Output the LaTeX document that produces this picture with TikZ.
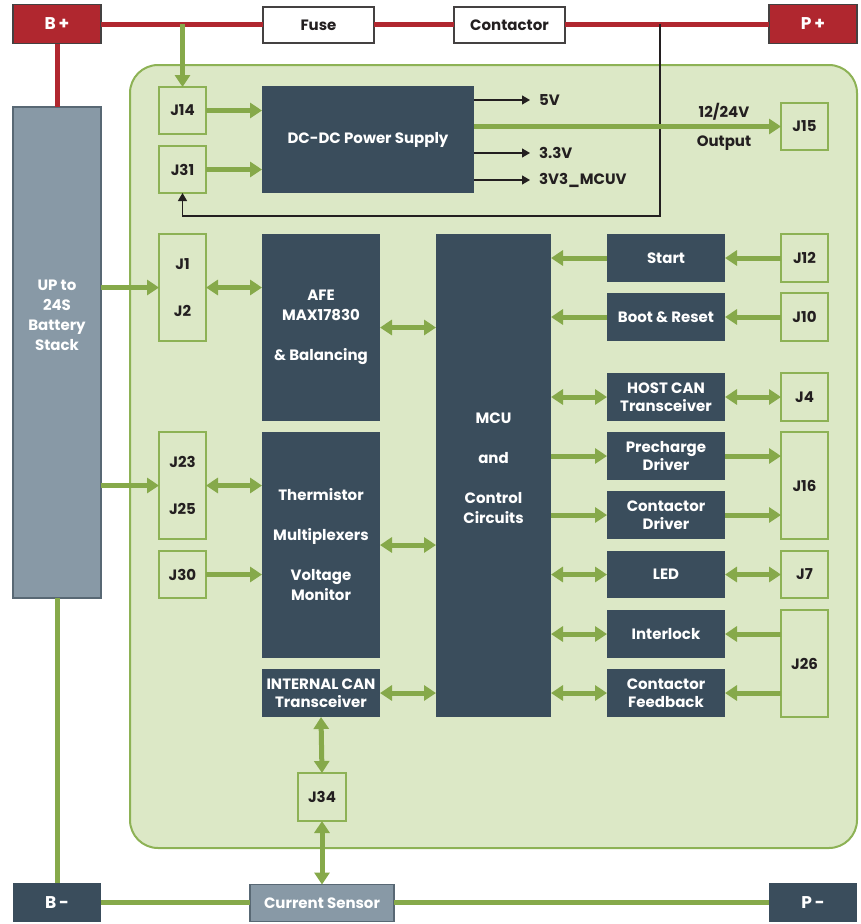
\documentclass[tikz,border=0pt]{standalone}
\usepackage{fontspec}
\setmainfont{Poppins}
\usetikzlibrary{arrows.meta}
\definecolor{board}{HTML}{DCE8C6}
\definecolor{boardline}{HTML}{8DB255}
\definecolor{grn}{HTML}{86A94A}
\definecolor{slate}{HTML}{3A4D5C}
\definecolor{steel}{HTML}{8899A6}
\definecolor{bred}{HTML}{B0272F}
\definecolor{ink}{HTML}{231F20}
\tikzset{
 base/.style={inner sep=0pt, outer sep=0pt, align=center, font=\bfseries\fontsize{15}{17.5}\selectfont},
 dark/.style={base, fill=slate, text=white},
 steelbox/.style={base, fill=steel, draw=slate!85, line width=1.2pt, text=white},
 redbox/.style={base, fill=bred, draw=ink!85, line width=1.2pt, text=white, font=\bfseries\fontsize{17}{20}\selectfont},
 railbox/.style={font=\bfseries\fontsize{17}{20}\selectfont},
 jbox/.style={base, draw=boardline, line width=2pt, text=ink},
 wbox/.style={base, fill=white, draw=ink!85, line width=1.5pt, text=ink},
 lbl/.style={base, text=ink},
 wide/.style={font=\bfseries\fontsize{15}{20}\selectfont},
 garrow/.style={draw=grn, line width=5pt, -{Triangle[length=12pt,width=15pt]}},
 gboth/.style={draw=grn, line width=5pt, {Triangle[length=12pt,width=15pt]}-{Triangle[length=12pt,width=15pt]}},
 gline/.style={draw=grn, line width=5pt},
 rline/.style={draw=bred, line width=5pt},
 thinarrow/.style={draw=ink, line width=1.2pt, -{Triangle[length=8pt,width=9pt]}},
}
\begin{document}
\begin{tikzpicture}[x=1pt,y=-1pt]
\useasboundingbox (0,0) rectangle (861,924);
% board
\draw[fill=board, draw=boardline, line width=2pt, rounded corners=28pt] (130,65) rectangle (857,848);
% top / bottom rail boxes
\node[redbox, minimum width=88pt, minimum height=39pt] (Bp) at (57,24) {B\,+};
\node[wbox, minimum width=111pt, minimum height=36pt] (Fuse) at (318.5,25) {Fuse};
\node[wbox, minimum width=111pt, minimum height=36pt] (Cont) at (509.5,25) {Contactor};
\node[redbox, minimum width=88pt, minimum height=39pt] (Pp) at (813,24) {P\,+};
\node[steelbox, minimum width=88pt, minimum height=491pt] (Batt) at (57,352.5) {};
\node[base, wide, text=white] (BattText) at (57,315) {UP to\\24S\\Battery\\Stack};
\node[dark, railbox, minimum width=88pt, minimum height=39pt] (Bm) at (57,902.5) {B\,-};
\node[steelbox, minimum width=144pt, minimum height=37pt] (CS) at (322,903) {Current Sensor};
\node[dark, railbox, minimum width=88pt, minimum height=39pt] (Pm) at (813,902.5) {P\,-};
% power section
\node[jbox, minimum width=47pt, minimum height=47pt] (J14) at (182.5,110.5) {J14};
\node[jbox, minimum width=47pt, minimum height=47pt] (J31) at (182.5,169.5) {J31};
\node[dark, minimum width=212pt, minimum height=107pt] (DC) at (368,139.5) {DC-DC Power Supply};
\node[jbox, minimum width=47pt, minimum height=47pt] (J15) at (804.5,126.5) {J15};
\node[lbl, anchor=west, inner xsep=9pt] (V5) at (530,100) {5V};
\node[lbl, anchor=west, inner xsep=9pt] (V33) at (530,153) {3.3V};
\node[lbl, anchor=west, inner xsep=9pt] (V3M) at (530,180) {3V3\_MCUV};
\node[lbl] (OutA) at (724,112) {12/24V};
\node[lbl] (OutB) at (724,143) {Output};
% left column
\node[jbox, minimum width=47pt, minimum height=107pt, font=\bfseries\fontsize{15}{47}\selectfont] (J12) at (182.5,287.5) {J1\\J2};
\node[dark, wide, minimum width=118pt, minimum height=187pt] (AFE) at (321,327.5) {AFE\\MAX17830\\~\\\& Balancing};
\node[jbox, minimum width=47pt, minimum height=107pt, font=\bfseries\fontsize{15}{47}\selectfont] (J2325) at (182.5,485.5) {J23\\J25};
\node[dark, wide, minimum width=118pt, minimum height=226pt] (Therm) at (321,545) {Thermistor\\~\\Multiplexers\\~\\Voltage\\Monitor};
\node[jbox, minimum width=47pt, minimum height=47pt] (J30) at (182.5,574.5) {J30};
\node[dark, minimum width=118pt, minimum height=48pt] (ICAN) at (321,693) {INTERNAL CAN\\Transceiver};
\node[jbox, minimum width=48pt, minimum height=48pt] (J34) at (322,797) {J34};
% MCU
\node[dark, minimum width=115pt, minimum height=483pt] (MCU) at (493.5,475.5) {};
\node[base, wide, text=white] (MCUText) at (493.5,468) {MCU\\~\\and\\~\\Control\\Circuits};
% right blocks
\node[dark, minimum width=118pt, minimum height=48pt] (Start) at (666,258) {Start};
\node[dark, minimum width=118pt, minimum height=48pt] (Boot) at (666,317) {Boot \& Reset};
\node[dark, minimum width=118pt, minimum height=48pt] (Host) at (666,397) {HOST CAN\\Transceiver};
\node[dark, minimum width=118pt, minimum height=48pt] (Pre) at (666,456) {Precharge\\Driver};
\node[dark, minimum width=118pt, minimum height=48pt] (CD) at (666,515) {Contactor\\Driver};
\node[dark, minimum width=118pt, minimum height=47pt] (LED) at (666,574.5) {LED};
\node[dark, minimum width=118pt, minimum height=48pt] (Inter) at (666,634) {Interlock};
\node[dark, minimum width=118pt, minimum height=48pt] (CF) at (666,693) {Contactor\\Feedback};
% right connectors
\node[jbox, minimum width=47pt, minimum height=48pt] (J12c) at (804.5,258) {J12};
\node[jbox, minimum width=47pt, minimum height=48pt] (J10) at (804.5,317) {J10};
\node[jbox, minimum width=47pt, minimum height=48pt] (J4) at (804.5,397) {J4};
\node[jbox, minimum width=47pt, minimum height=107pt] (J16) at (804.5,485.5) {J16};
\node[jbox, minimum width=47pt, minimum height=47pt] (J7) at (804.5,574.5) {J7};
\node[jbox, minimum width=47pt, minimum height=107pt] (J26) at (804.5,663.5) {J26};
% rails
\draw[rline] (Bp.east) -- (Bp.east -| Fuse.west);
\draw[rline] (Fuse.east |- Bp.east) -- (Cont.west |- Bp.east);
\draw[rline] (Cont.east |- Pp.west) -- (Pp.west);
\draw[rline] (Bp.south) -- (Batt.north);
\draw[gline] (Batt.south) -- (Bm.north);
\draw[gline] (Bm.east) -- (Bm.east -| CS.west);
\draw[gline] (CS.east |- Pm.west) -- (Pm.west);
\coordinate (tapA) at (182.5,24);
\coordinate (tapB) at (660,24);
\draw[garrow] (tapA) -- (J14.north);
\draw[thinarrow] (tapB) -- (660,216) -- (J31.south |- 0,216) -- (J31.south);
% power arrows
\draw[garrow] (J14.east) -- (J14.east -| DC.west);
\draw[garrow] (J31.east) -- (J31.east -| DC.west);
\draw[garrow] (DC.east |- J15.west) -- (J15.west);
\draw[thinarrow] (DC.east |- V5.west) -- (V5.west);
\draw[thinarrow] (DC.east |- V33.west) -- (V33.west);
\draw[thinarrow] (DC.east |- V3M.west) -- (V3M.west);
% left arrows
\draw[garrow] (Batt.east |- J12.west) -- (J12.west);
\draw[garrow] (Batt.east |- J2325.west) -- (J2325.west);
\draw[gboth] (J12.east) -- (J12.east -| AFE.west);
\draw[gboth] (J2325.east) -- (J2325.east -| Therm.west);
\draw[garrow] (J30.east) -- (J30.east -| Therm.west);
\draw[gboth] (AFE.east) -- (AFE.east -| MCU.west);
\draw[gboth] (Therm.east) -- (Therm.east -| MCU.west);
\draw[gboth] (ICAN.east) -- (ICAN.east -| MCU.west);
\draw[gboth] (ICAN.south) -- (J34.north);
\draw[gboth] (J34.south) -- (CS.north);
% right arrows
\draw[garrow] (Start.west) -- (Start.west -| MCU.east);
\draw[garrow] (J12c.west) -- (Start.east);
\draw[garrow] (Boot.west) -- (Boot.west -| MCU.east);
\draw[garrow] (J10.west) -- (Boot.east);
\draw[gboth] (Host.west -| MCU.east) -- (Host.west);
\draw[gboth] (Host.east) -- (J4.west);
\draw[garrow] (Pre.west -| MCU.east) -- (Pre.west);
\draw[garrow] (Pre.east) -- (Pre.east -| J16.west);
\draw[garrow] (CD.west -| MCU.east) -- (CD.west);
\draw[garrow] (CD.east) -- (CD.east -| J16.west);
\draw[gboth] (LED.west -| MCU.east) -- (LED.west);
\draw[gboth] (LED.east) -- (J7.west);
\draw[gboth] (Inter.west -| MCU.east) -- (Inter.west);
\draw[garrow] (Inter.east -| J26.west) -- (Inter.east);
\draw[gboth] (CF.west -| MCU.east) -- (CF.west);
\draw[garrow] (CF.east -| J26.west) -- (CF.east);
\end{tikzpicture}
\end{document}
